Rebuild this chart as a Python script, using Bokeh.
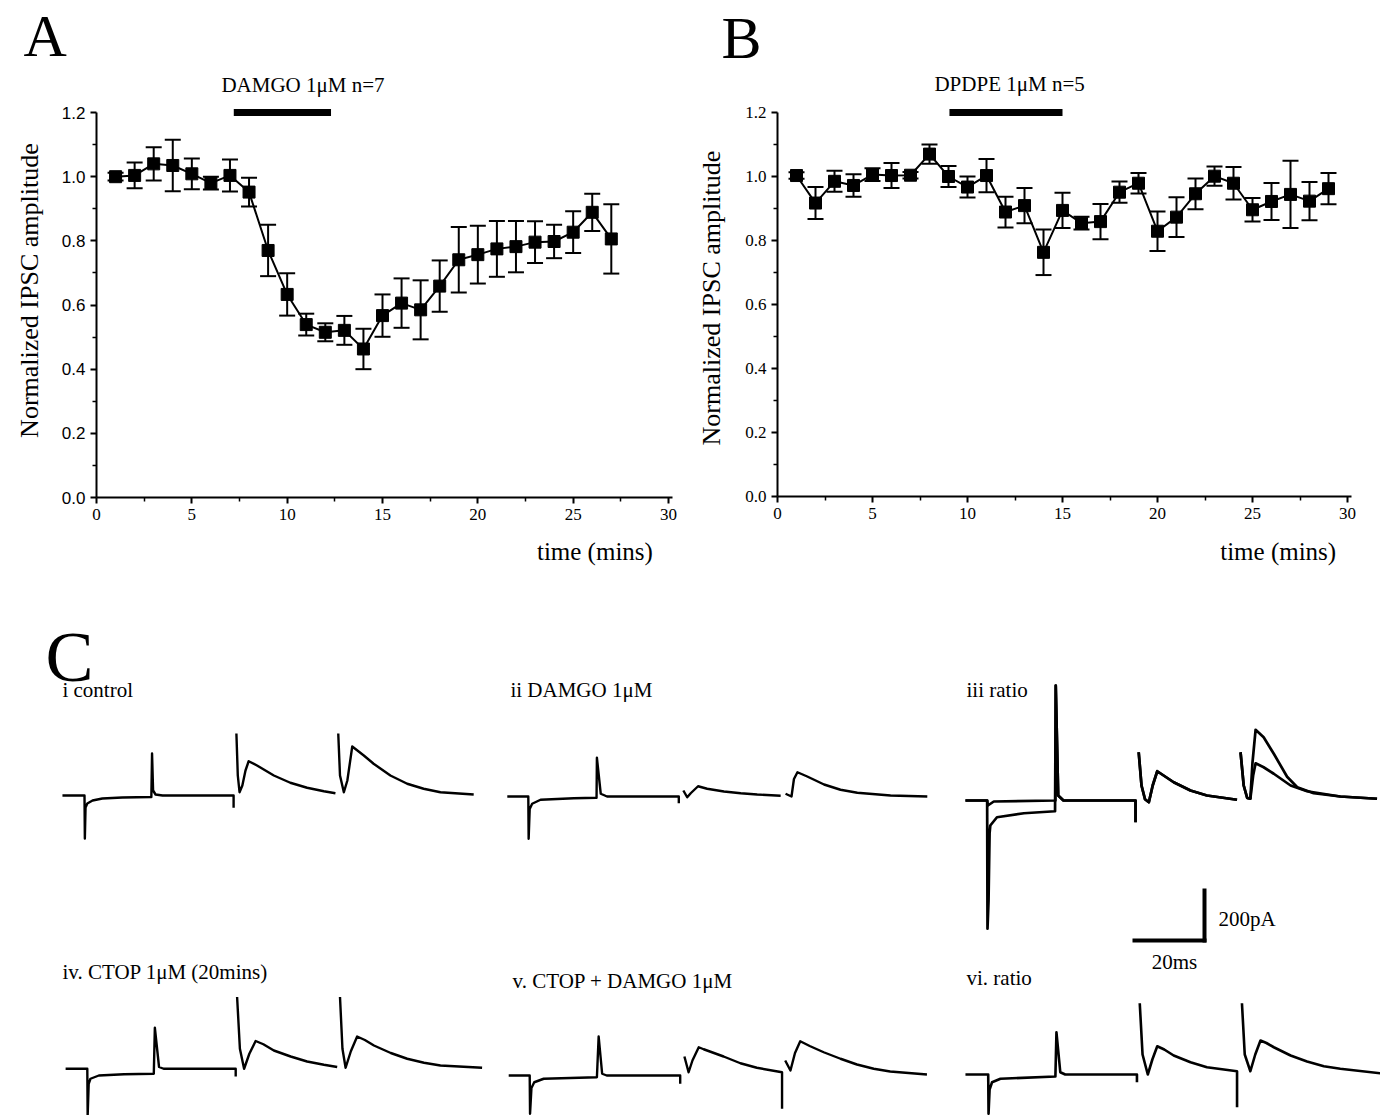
import math
from bokeh.plotting import figure
from bokeh.models import (ColumnDataSource, Whisker, TeeHead, Label, FixedTicker,
                          PrintfTickFormatter, Range1d)
from bokeh.layouts import column, row
from bokeh.embed import file_html
from bokeh.resources import INLINE

NaN = float("nan")

# ---------------- Panel A data (DAMGO) ----------------
a_time = list(range(1, 28))
a_mean = [1.00, 1.004, 1.040, 1.035, 1.009, 0.980, 1.004, 0.952, 0.770, 0.633,
          0.539, 0.515, 0.521, 0.463, 0.567, 0.606, 0.585, 0.659, 0.741, 0.757,
          0.775, 0.782, 0.796, 0.798, 0.827, 0.889, 0.806]
a_err = [0.012, 0.040, 0.052, 0.080, 0.048, 0.020, 0.050, 0.045, 0.080, 0.066,
         0.034, 0.028, 0.045, 0.063, 0.066, 0.077, 0.092, 0.080, 0.102, 0.090,
         0.087, 0.080, 0.065, 0.052, 0.065, 0.058, 0.108]
a_drug_text = "DAMGO 1μM  n=7"
a_drug_bar = [7.2, 12.3]

# ---------------- Panel B data (DPDPE) ----------------
b_time = list(range(1, 30))
b_mean = [1.003, 0.917, 0.985, 0.972, 1.006, 1.003, 1.004, 1.070, 1.000, 0.967,
          1.003, 0.889, 0.909, 0.763, 0.894, 0.854, 0.859, 0.951, 0.979, 0.829,
          0.873, 0.946, 1.001, 0.979, 0.896, 0.922, 0.944, 0.923, 0.962]
b_err = [0.010, 0.050, 0.033, 0.035, 0.020, 0.039, 0.010, 0.030, 0.033, 0.033,
         0.052, 0.048, 0.055, 0.071, 0.055, 0.020, 0.055, 0.033, 0.032, 0.062,
         0.062, 0.048, 0.030, 0.051, 0.037, 0.058, 0.105, 0.060, 0.049]
b_drug_text = "DPDPE 1μM  n=5"
b_drug_bar = [9.05, 15.0]

x_ticks = [0, 5, 10, 15, 20, 25, 30]
x_minor = [2.5, 7.5, 12.5, 17.5, 22.5, 27.5]
y_ticks = [0.0, 0.2, 0.4, 0.6, 0.8, 1.0, 1.2]
y_minor = [0.1, 0.3, 0.5, 0.7, 0.9, 1.1]
x_title = "time (mins)"
y_title = "Normalized IPSC amplitude"

# ---------------- Panel C traces (ms, pA) ----------------
tr_i_ms = [0, 6.3, 6.4, 6.6, 7.1, 8.6, 11.4, 17.1, 25.4, 25.6, 25.9, 26.6, 28.6, 48.9, 48.9, NaN,
           49.7, 50.1, 50.6, 51.4, 52.3, 53.2, 55.6, 60.4, 65.1, 69.9, 74.7, 78.0, NaN,
           78.8, 79.3, 80.4, 81.4, 82.8, 86.1, 88.9, 93.7, 98.5, 103.2, 108.0, 117.5]
tr_i_pA = [0, 0, -172, -48, -32, -20, -12, -8, -6, 168, 20, 4, 0, 0, -49, NaN,
           248, 80, 13, 40, 100, 137, 120, 80, 51, 31, 17, 9, NaN,
           248, 80, 13, 60, 196, 160, 127, 80, 47, 27, 13, 4]

tr_ii_ms = [0, 6.0, 6.1, 6.4, 7.1, 9.5, 19.0, 25.5, 25.6, 26.7, 28.5, 49.0, 49.0, NaN,
            50.3, 51.4, 52.4, 54.5, 57.1, 61.9, 66.7, 71.4, 78.1, NaN,
            79.5, 81.2, 81.9, 82.9, 85.7, 90.5, 95.2, 100.0, 109.5, 120.0]
tr_ii_pA = [0, 0, -169, -50, -29, -13, -7, -5, 155, 11, 0, 0, -27, NaN,
            24, -3, 13, 41, 31, 20, 13, 8, 3, NaN,
            11, 0, 70, 97, 80, 48, 27, 15, 4, 0]

tr_iii_a_ms = [0, 6.2, 6.4, 8.1, 25.7, 25.8, 26.5, 28.0, 48.6, 48.6, NaN,
               49.5, 50.3, 51.3, 52.4, 53.5, 54.8, 59.5, 64.3, 69.0, 77.6, NaN,
               78.6, 79.5, 80.5, 81.4, 82.0, 82.9, 85.2, 88.1, 91.9, 94.8, 99.5, 107.1, 117.6]
tr_iii_a_pA = [0, 0, -20, -4, 0, 460, 20, 0, 0, -87, NaN,
               193, 60, 5, -7, 60, 117, 73, 40, 20, 3, NaN,
               193, 60, 10, 7, 150, 283, 253, 187, 95, 53, 29, 16, 7]
tr_iii_b_ms = [0, 6.2, 6.3, 6.6, 6.9, 7.1, 9.0, 16.7, 25.6, 25.8, 26.5, 28.0, 48.6, 48.6, NaN,
               49.5, 50.3, 51.3, 52.4, 53.5, 54.8, 59.5, 64.3, 69.0, 77.6, NaN,
               78.6, 79.5, 80.5, 81.4, 82.2, 82.9, 85.2, 88.1, 92.9, 97.6, 107.1, 117.6]
tr_iii_b_pA = [0, 0, -513, -400, -130, -100, -67, -51, -43, 460, 20, 0, 0, -87, NaN,
               193, 60, 5, -7, 60, 117, 73, 40, 20, 3, NaN,
               193, 60, 10, 7, 100, 149, 133, 107, 60, 37, 16, 7]

tr_iv_ms = [0, 6.2, 6.3, 6.6, 7.1, 9.5, 16.7, 25.2, 25.5, 26.7, 28.0, 48.6, 48.6, NaN,
            49.0, 49.8, 51.0, 52.5, 54.3, 56.5, 59.5, 64.3, 69.0, 73.8, 77.6, NaN,
            78.4, 79.1, 80.0, 81.5, 83.3, 85.5, 88.1, 92.9, 97.6, 102.4, 107.1, 119.0]
tr_iv_pA = [0, 0, -187, -60, -40, -27, -22, -20, 164, 7, 0, 0, -31, NaN,
            287, 80, 0, 60, 111, 98, 73, 49, 29, 16, 7, NaN,
            287, 80, 4, 70, 129, 115, 93, 63, 40, 24, 13, 4]

tr_v_ms = [0, 6.0, 6.1, 6.5, 7.3, 10.0, 25.2, 25.7, 26.7, 28.0, 49.0, 49.0, NaN,
           50.2, 51.4, 52.5, 54.3, 55.7, 61.4, 66.2, 70.9, 78.1, 78.1, NaN,
           79.0, 80.5, 81.8, 83.3, 86.0, 90.0, 94.8, 99.5, 104.3, 109.0, 119.5]
tr_v_pA = [0, 0, -153, -50, -27, -13, -7, 156, 7, 0, 0, -33, NaN,
           76, 13, 60, 113, 105, 76, 49, 31, 13, -133, NaN,
           60, 20, 90, 137, 118, 93, 67, 44, 27, 16, 4]

tr_vi_ms = [0, 6.5, 6.6, 6.9, 7.6, 10.0, 25.7, 26.0, 27.1, 28.5, 49.0, 49.0, NaN,
            49.8, 50.6, 52.1, 53.4, 54.8, 56.8, 59.5, 64.3, 69.0, 77.6, 77.6, NaN,
            79.0, 79.8, 81.4, 82.8, 84.3, 86.0, 88.1, 92.9, 97.6, 102.4, 107.1, 118.6]
tr_vi_pA = [0, 0, -157, -60, -31, -17, -8, 169, 9, 0, 0, -31, NaN,
            285, 80, 0, 60, 113, 100, 76, 49, 29, 13, -131, NaN,
            285, 80, 13, 80, 136, 126, 109, 76, 52, 33, 23, 5]

trace_titles = ["i control", "ii DAMGO 1μM", "iii ratio",
                "iv. CTOP 1μM (20mins)", "v. CTOP + DAMGO 1μM", "vi. ratio"]
scale_ms = 20
scale_pA = 200

SERIF = "Liberation Serif"
SANS = "Liberation Sans"


def label(p, x, y, text, size, font=SERIF, align="left", baseline="middle", angle=0.0):
    p.add_layout(Label(x=x, y=y, text=text, text_font=font, text_font_size=f"{size}px",
                       text_align=align, text_baseline=baseline, angle=angle,
                       text_color="black"))


def time_panel(width, height, x0px, y0px, xscale, yscale, t, m, e, drug_text, drug_bar,
               letter, letter_xy, drug_xy, xt_xy, yt_xy, ylab_font):
    # frame fills the whole figure; axes sit at x=0 / y=0 through fixed_location
    xr = Range1d(-x0px / xscale, (width - x0px) / xscale)
    yr = Range1d(-(height - y0px) / yscale, y0px / yscale)
    p = figure(width=width, height=height, output_backend="svg", toolbar_location=None,
               x_range=xr, y_range=yr, min_border=0)
    p.grid.visible = False
    p.outline_line_color = None
    p.background_fill_color = "white"
    p.border_fill_color = "white"
    xa, ya = p.xaxis[0], p.yaxis[0]
    xa.fixed_location = 0
    ya.fixed_location = 0
    xa.ticker = FixedTicker(ticks=x_ticks, minor_ticks=x_minor)
    ya.ticker = FixedTicker(ticks=y_ticks, minor_ticks=y_minor)
    ya.formatter = PrintfTickFormatter(format="%.1f")
    xa.bounds = (0, 30.2)
    ya.bounds = (0, 1.2)
    for ax in (xa, ya):
        ax.axis_line_width = 2
        ax.axis_line_color = "black"
        ax.major_tick_line_width = 2
        ax.minor_tick_line_width = 1.5
        ax.major_tick_line_color = "black"
        ax.minor_tick_line_color = "black"
        ax.major_tick_in = 0
        ax.major_tick_out = 6
        ax.minor_tick_in = 0
        ax.minor_tick_out = 4
        ax.major_label_text_color = "black"
        ax.major_label_text_font_size = "17px"
        ax.major_label_standoff = 5
    xa.major_label_text_font = SERIF
    ya.major_label_text_font = ylab_font

    lo = [mm - ee for mm, ee in zip(m, e)]
    hi = [mm + ee for mm, ee in zip(m, e)]
    src = ColumnDataSource(dict(t=t, m=m, lo=lo, hi=hi))
    p.line("t", "m", source=src, line_width=2, line_color="black")
    p.add_layout(Whisker(base="t", upper="hi", lower="lo", source=src, dimension="height",
                         line_width=2, line_color="black",
                         upper_head=TeeHead(size=16, line_width=2, line_color="black"),
                         lower_head=TeeHead(size=16, line_width=2, line_color="black")))
    p.scatter("t", "m", source=src, marker="square", size=12,
              fill_color="black", line_color="black")
    p.segment(x0=[drug_bar[0]], y0=[1.2], x1=[drug_bar[1]], y1=[1.2],
              line_width=7, line_color="black", line_cap="butt")
    label(p, drug_xy[0], drug_xy[1], drug_text, 21)
    label(p, letter_xy[0], letter_xy[1], letter, 60)
    label(p, xt_xy[0], xt_xy[1], x_title, 25)
    label(p, yt_xy[0], yt_xy[1], y_title, 26, align="center", angle=math.pi / 2)
    return p


pA = time_panel(690, 585, 96, 497, 572 / 30, 320.8,
                a_time, a_mean, a_err, a_drug_text, a_drug_bar,
                "A", (-3.83, 1.44), (6.55, 1.286), (23.1, -0.168), (-3.51, 0.645), SANS)
pB = time_panel(690, 585, 87, 496, 19.0, 320.0,
                b_time, b_mean, b_err, b_drug_text, b_drug_bar,
                "B", (-2.95, 1.434), (8.26, 1.29), (23.3, -0.172), (-3.45, 0.62), SERIF)

# ---------------- Panel C ----------------
PX_PER_MS = 3.5
PA_PER_PX = 4.0
CW, CH = 1380, 530
pC = figure(width=CW, height=CH, output_backend="svg", toolbar_location=None,
            x_range=Range1d(0, CW / PX_PER_MS), y_range=Range1d(0, CH * PA_PER_PX),
            x_axis_type=None, y_axis_type=None, min_border=0)
pC.grid.visible = False
pC.outline_line_color = None

traces = [
    (tr_i_ms, tr_i_pA, (17.7, 1280), 2.4),
    (tr_ii_ms, tr_ii_pA, (144.8, 1276), 2.4),
    (tr_iii_a_ms, tr_iii_a_pA, (275.7, 1260), 2.7),
    (tr_iii_b_ms, tr_iii_b_pA, (275.7, 1260), 2.7),
    (tr_iv_ms, tr_iv_pA, (18.6, 187), 2.4),
    (tr_v_ms, tr_v_pA, (145.2, 160), 2.4),
    (tr_vi_ms, tr_vi_pA, (275.7, 164), 2.6),
]
for ms, pa, (ox, oy), lw in traces:
    pC.line([v + ox for v in ms], [v + oy for v in pa], line_width=lw,
            line_color="black", line_join="round")

title_pos = [(17.7, 1704), (145.7, 1704), (276.0, 1704),
             (17.7, 576), (146.3, 540), (276.0, 552)]
for txt, (x, y) in zip(trace_titles, title_pos):
    label(pC, x, y, txt, 21)
label(pC, 12.86, 1836, "C", 72)

# scale bar
bar_x, bar_y = 344.0, 700
pC.segment(x0=[bar_x - scale_ms, bar_x], y0=[bar_y, bar_y],
           x1=[bar_x, bar_x], y1=[bar_y, bar_y + scale_pA],
           line_width=4, line_color="black", line_cap="square")
label(pC, bar_x + 4.0, bar_y + 88, f"{scale_pA}pA", 21)
label(pC, bar_x - scale_ms / 2 + 1.4, bar_y - 84, f"{scale_ms}ms", 21, align="center")

layout = column(row(pA, pB), pC)
open("out.html", "w").write(file_html(layout, INLINE))
